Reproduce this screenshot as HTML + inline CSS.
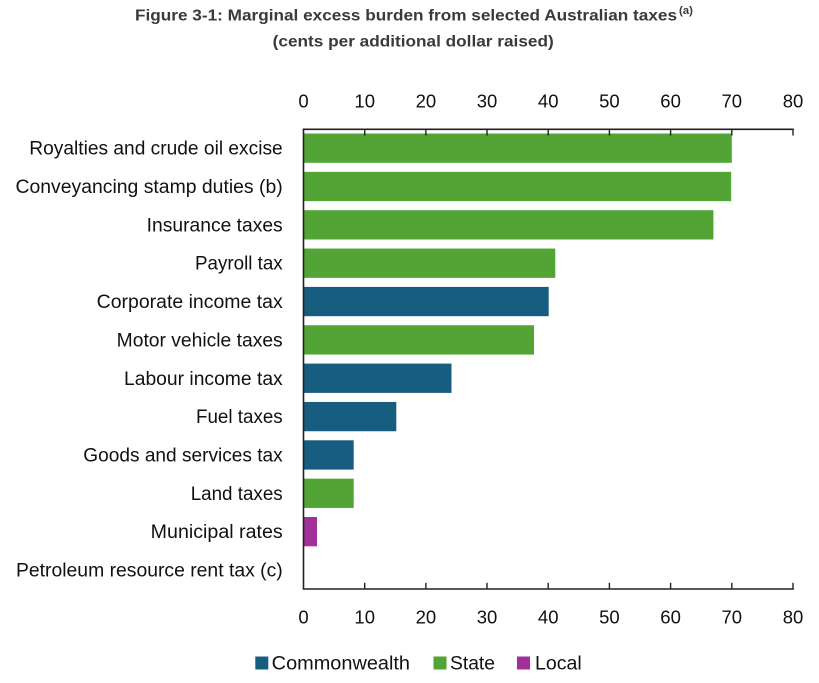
<!DOCTYPE html>
<html>
<head>
<meta charset="utf-8">
<style>
  html, body { margin: 0; padding: 0; background: #ffffff; }
  svg { display: block; }
  text { font-family: "Liberation Sans", Arial, sans-serif; }
</style>
</head>
<body>
<svg width="819" height="683" viewBox="0 0 819 683" xmlns="http://www.w3.org/2000/svg">
  <rect x="0" y="0" width="819" height="683" fill="#ffffff"/>

  <!-- Title -->
  <text x="135" y="20.7" font-size="16" font-weight="bold" fill="#3a3a3a" textLength="542" lengthAdjust="spacingAndGlyphs">Figure 3-1: Marginal excess burden from selected Australian taxes</text>
  <text x="679" y="14" font-size="11" font-weight="bold" fill="#3a3a3a" textLength="14" lengthAdjust="spacingAndGlyphs">(a)</text>
  <text x="272.7" y="46.7" font-size="16" font-weight="bold" fill="#3a3a3a" textLength="281" lengthAdjust="spacingAndGlyphs">(cents per additional dollar raised)</text>

  <!-- Top tick labels -->
  <g font-size="18.5" fill="#111" text-anchor="middle">
    <text x="303.5" y="107.3">0</text>
    <text x="364.7" y="107.3">10</text>
    <text x="425.9" y="107.3">20</text>
    <text x="487.0" y="107.3">30</text>
    <text x="548.2" y="107.3">40</text>
    <text x="609.4" y="107.3">50</text>
    <text x="670.6" y="107.3">60</text>
    <text x="731.8" y="107.3">70</text>
    <text x="793.0" y="107.3">80</text>
  </g>

  <!-- Bottom tick labels -->
  <g font-size="18.5" fill="#111" text-anchor="middle">
    <text x="303.5" y="623.5">0</text>
    <text x="364.7" y="623.5">10</text>
    <text x="425.9" y="623.5">20</text>
    <text x="487.0" y="623.5">30</text>
    <text x="548.2" y="623.5">40</text>
    <text x="609.4" y="623.5">50</text>
    <text x="670.6" y="623.5">60</text>
    <text x="731.8" y="623.5">70</text>
    <text x="793.0" y="623.5">80</text>
  </g>

  <!-- Bars -->
  <g>
    <rect x="303.5" y="133.5" width="428.3" height="29.3" fill="#52a535"/>
    <rect x="303.5" y="171.85" width="427.7" height="29.3" fill="#52a535"/>
    <rect x="303.5" y="210.2" width="409.9" height="29.3" fill="#52a535"/>
    <rect x="303.5" y="248.55" width="251.8" height="29.3" fill="#52a535"/>
    <rect x="303.5" y="286.9" width="245.2" height="29.3" fill="#175d80"/>
    <rect x="303.5" y="325.25" width="230.5" height="29.3" fill="#52a535"/>
    <rect x="303.5" y="363.6" width="148.0" height="29.3" fill="#175d80"/>
    <rect x="303.5" y="401.95" width="92.8" height="29.3" fill="#175d80"/>
    <rect x="303.5" y="440.3" width="50.2" height="29.3" fill="#175d80"/>
    <rect x="303.5" y="478.65" width="50.2" height="29.3" fill="#52a535"/>
    <rect x="303.5" y="517.0" width="13.5" height="29.3" fill="#a2309a"/>
  </g>

  <!-- Axes -->
  <g stroke="#222" stroke-width="1.6" fill="none">
    <line x1="302.7" y1="129.3" x2="793.8" y2="129.3"/>
    <line x1="302.7" y1="589" x2="793.8" y2="589"/>
    <line x1="303.5" y1="129.3" x2="303.5" y2="589"/>
  </g>
  <g stroke="#222" stroke-width="1.4">
    <!-- top ticks -->
    <line x1="364.7" y1="129.3" x2="364.7" y2="135.5"/>
    <line x1="425.9" y1="129.3" x2="425.9" y2="135.5"/>
    <line x1="487.0" y1="129.3" x2="487.0" y2="135.5"/>
    <line x1="548.2" y1="129.3" x2="548.2" y2="135.5"/>
    <line x1="609.4" y1="129.3" x2="609.4" y2="135.5"/>
    <line x1="670.6" y1="129.3" x2="670.6" y2="135.5"/>
    <line x1="731.8" y1="129.3" x2="731.8" y2="135.5"/>
    <line x1="793.0" y1="129.3" x2="793.0" y2="135.5"/>
    <!-- bottom ticks -->
    <line x1="364.7" y1="582.8" x2="364.7" y2="589"/>
    <line x1="425.9" y1="582.8" x2="425.9" y2="589"/>
    <line x1="487.0" y1="582.8" x2="487.0" y2="589"/>
    <line x1="548.2" y1="582.8" x2="548.2" y2="589"/>
    <line x1="609.4" y1="582.8" x2="609.4" y2="589"/>
    <line x1="670.6" y1="582.8" x2="670.6" y2="589"/>
    <line x1="731.8" y1="582.8" x2="731.8" y2="589"/>
    <line x1="793.0" y1="582.8" x2="793.0" y2="589"/>
  </g>

  <!-- Category labels -->
  <g font-size="19" fill="#111" text-anchor="start">
    <text x="29.3" y="154.7" textLength="253.4" lengthAdjust="spacingAndGlyphs">Royalties and crude oil excise</text>
    <text x="15.5" y="193.0" textLength="267.2" lengthAdjust="spacingAndGlyphs">Conveyancing stamp duties (b)</text>
    <text x="146.7" y="231.4" textLength="136.0" lengthAdjust="spacingAndGlyphs">Insurance taxes</text>
    <text x="195.0" y="269.7" textLength="87.7" lengthAdjust="spacingAndGlyphs">Payroll tax</text>
    <text x="96.7" y="308.1" textLength="186.0" lengthAdjust="spacingAndGlyphs">Corporate income tax</text>
    <text x="116.7" y="346.4" textLength="166.0" lengthAdjust="spacingAndGlyphs">Motor vehicle taxes</text>
    <text x="124.0" y="384.8" textLength="158.7" lengthAdjust="spacingAndGlyphs">Labour income tax</text>
    <text x="196.0" y="423.1" textLength="86.7" lengthAdjust="spacingAndGlyphs">Fuel taxes</text>
    <text x="83.3" y="461.5" textLength="199.4" lengthAdjust="spacingAndGlyphs">Goods and services tax</text>
    <text x="190.7" y="499.8" textLength="92.0" lengthAdjust="spacingAndGlyphs">Land taxes</text>
    <text x="150.7" y="538.2" textLength="132.0" lengthAdjust="spacingAndGlyphs">Municipal rates</text>
    <text x="16.0" y="576.5" textLength="266.7" lengthAdjust="spacingAndGlyphs">Petroleum resource rent tax (c)</text>
  </g>

  <!-- Legend -->
  <rect x="255.3" y="656.5" width="13" height="13" fill="#175d80"/>
  <text x="271.7" y="669.3" font-size="19" fill="#111" textLength="138.3" lengthAdjust="spacingAndGlyphs">Commonwealth</text>
  <rect x="433.5" y="656.5" width="13" height="13" fill="#52a535"/>
  <text x="450" y="669.3" font-size="19" fill="#111" textLength="45" lengthAdjust="spacingAndGlyphs">State</text>
  <rect x="517" y="656.5" width="13" height="13" fill="#a2309a"/>
  <text x="535" y="669.3" font-size="19" fill="#111" textLength="46.7" lengthAdjust="spacingAndGlyphs">Local</text>
</svg>
</body>
</html>
